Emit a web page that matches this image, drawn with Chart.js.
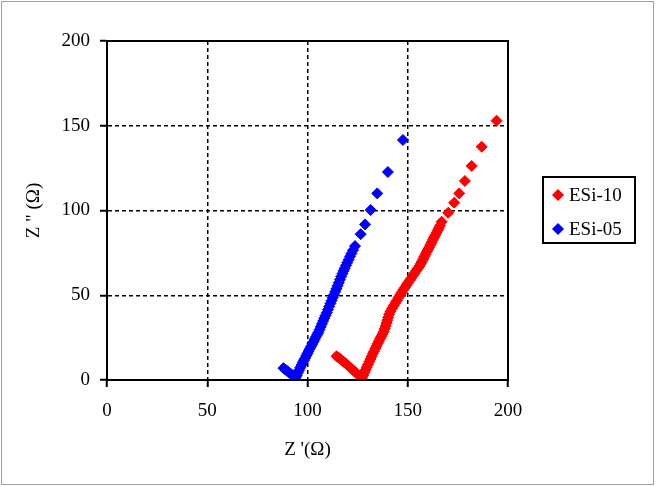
<!DOCTYPE html>
<html>
<head>
<meta charset="utf-8">
<script src="https://cdn.jsdelivr.net/npm/chart.js@4/dist/chart.umd.min.js"></script>
<style>
    html, body { margin: 0; padding: 0; background: #fff; }
    canvas { display: block; }
</style>
</head>
<body>
<canvas id="nyquistChart" width="656" height="486"></canvas>
<script>
const seriesLabels = ['ESi-10', 'ESi-05'];
const seriesColors = ['#ff0000', '#0000ff'];

// ESi-10 (red)
const esi10X = [
    114.5, 115.5, 116.5, 117.5, 118.5, 119.5, 120.5, 121.5, 122.5, 123.5, 124.5, 125.5, 126.5, 127.2,
    127.8, 128.4, 129.0, 129.6, 130.2, 130.8, 131.4, 132.0, 132.6, 133.2,
    133.8, 134.4, 135.0, 135.6, 136.2, 136.8, 137.4, 138.0, 138.5, 139.0,
    139.4, 139.8, 140.2, 140.7, 141.4, 142.2, 143.0, 143.8, 144.6, 145.4,
    146.2, 147.0, 147.8, 148.6, 149.4, 150.2, 151.0, 151.8, 152.6, 153.4,
    154.2, 155.0, 155.8, 156.5, 157.1, 157.7, 158.3, 158.9, 159.5, 160.1,
    160.7, 161.3, 161.9, 162.5, 163.1, 163.7, 164.3, 164.9, 165.5, 166.1, 166.9,
    170.2, 173.2, 175.7, 178.5, 181.9, 186.9, 194.3
];
const esi10Y = [
    14.0, 13.2, 12.3, 11.3, 10.3, 9.3, 8.2, 7.2, 6.1, 5.0, 3.9, 2.8, 1.8, 1.2,
    2.8, 4.4, 6.0, 7.6, 9.2, 10.8, 12.4, 14.0, 15.6, 17.0,
    18.5, 20.0, 21.5, 22.9, 24.3, 25.7, 27.1, 28.6, 30.2, 31.9,
    33.6, 35.3, 37.0, 38.8, 40.5, 42.2, 43.9, 45.5, 47.0, 48.6,
    50.2, 51.7, 53.2, 54.6, 56.0, 57.4, 58.8, 60.2, 61.6, 63.0,
    64.4, 65.8, 67.2, 68.6, 70.0, 71.4, 72.8, 74.2, 75.6, 77.0,
    78.4, 79.8, 81.2, 82.6, 84.0, 85.4, 86.8, 88.2, 89.6, 91.0, 93.4,
    98.7, 104.6, 110.1, 117.4, 126.3, 137.6, 153.0
];

// ESi-05 (blue)
const esi05X = [
    88.0, 89.0, 90.0, 91.0, 92.0, 93.0, 94.0,
    94.6, 95.2, 95.8, 96.4, 97.0, 97.6, 98.2, 98.8, 99.4, 100.0,
    100.6, 101.2, 101.8, 102.4, 103.0, 103.6, 104.2, 104.8, 105.4, 106.0,
    106.6, 107.2, 107.8, 108.4, 109.0, 109.6, 110.2, 110.8, 111.4, 112.0,
    112.6, 113.2, 113.8, 114.4, 115.0, 115.6, 116.2, 116.8, 117.4, 118.0,
    118.6, 119.2, 119.8, 120.5, 121.2, 121.9, 122.7, 123.7,
    126.5, 128.7, 131.5, 134.8, 140.1, 147.6
];
const esi05Y = [
    7.0, 6.1, 5.2, 4.3, 3.3, 2.3, 1.3,
    2.6, 4.2, 5.8, 7.3, 8.8, 10.3, 11.6, 12.9, 14.3, 15.7,
    17.1, 18.5, 19.9, 21.3, 22.6, 24.0, 25.4, 26.7, 28.0, 29.7,
    31.4, 33.1, 34.8, 36.5, 38.1, 39.7, 41.5, 43.3, 45.1, 46.8,
    48.5, 50.2, 52.0, 53.8, 55.6, 57.4, 59.2, 61.0, 62.7, 64.4,
    66.0, 67.6, 69.2, 71.0, 72.8, 74.6, 76.6, 79.0,
    86.0, 91.8, 100.3, 110.1, 122.7, 141.6
];

const xTicks = [0, 50, 100, 150, 200];
const yTicks = [0, 50, 100, 150, 200];
const xTitle = "Z '(\u03A9)";
const yTitle = 'Z " (\u03A9)';

const serif = "'Liberation Serif', 'Times New Roman', serif";
const tickFont = { family: serif, size: 19 };
const titleFont = { family: serif, size: 19 };

function toPoints(xs, ys) {
    return xs.map((x, i) => ({ x: x, y: ys[i] }));
}

// plot frame, outer border and the boxed legend on the right
const framePlugin = {
    id: 'frame',
    beforeDraw(chart) {
        const ctx = chart.ctx;
        ctx.save();
        ctx.fillStyle = '#fff';
        ctx.fillRect(0, 0, chart.width, chart.height);
        ctx.restore();
    },
    afterDraw(chart) {
        const { ctx, chartArea: a } = chart;
        ctx.save();
        ctx.strokeStyle = '#000';
        ctx.lineWidth = 2;
        ctx.strokeRect(a.left, a.top, a.right - a.left, a.bottom - a.top);

        ctx.strokeStyle = '#a0a0a0';
        ctx.lineWidth = 1;
        ctx.strokeRect(1.5, 1.5, 652, 483);

        // legend
        ctx.strokeStyle = '#000';
        ctx.lineWidth = 2;
        ctx.strokeRect(543, 177, 92, 66);
        ctx.font = '19px ' + serif;
        ctx.textBaseline = 'middle';
        ctx.textAlign = 'left';
        chart.data.datasets.forEach((ds, i) => {
            const cy = 195 + i * 34;
            const cx = 558;
            ctx.fillStyle = ds.backgroundColor;
            ctx.beginPath();
            ctx.moveTo(cx, cy - 6);
            ctx.lineTo(cx + 6, cy);
            ctx.lineTo(cx, cy + 6);
            ctx.lineTo(cx - 6, cy);
            ctx.closePath();
            ctx.fill();
            ctx.fillStyle = '#000';
            ctx.fillText(ds.label, 569, cy + 1);
        });
        ctx.restore();
    }
};

new Chart(document.getElementById('nyquistChart'), {
    type: 'scatter',
    data: {
        datasets: [
            {
                label: seriesLabels[0],
                data: toPoints(esi10X, esi10Y),
                backgroundColor: seriesColors[0],
                borderColor: seriesColors[0],
                borderWidth: 1,
                pointStyle: 'rectRot',
                pointRadius: 5.5,
            },
            {
                label: seriesLabels[1],
                data: toPoints(esi05X, esi05Y),
                backgroundColor: seriesColors[1],
                borderColor: seriesColors[1],
                borderWidth: 1,
                pointStyle: 'rectRot',
                pointRadius: 5.5,
            }
        ]
    },
    options: {
        responsive: false,
        animation: false,
        events: [],
        layout: { padding: { left: 0, top: 41, right: 148, bottom: 0 } },
        plugins: {
            legend: { display: false },
            tooltip: { enabled: false }
        },
        scales: {
            x: {
                type: 'linear',
                min: 0,
                max: 200,
                afterBuildTicks: s => { s.ticks = xTicks.map(v => ({ value: v })); },
                afterFit: s => { s.height = 106; },
                grid: { color: '#000', lineWidth: 1.5, tickLength: 7, tickColor: '#000', tickWidth: 2 },
                border: { display: true, color: '#000', width: 2, dash: [4, 3] },
                ticks: { color: '#000', font: tickFont, padding: 13, maxRotation: 0 },
                title: { display: true, text: xTitle, color: '#000', font: titleFont, padding: { top: 0, bottom: 25 } }
            },
            y: {
                type: 'linear',
                min: 0,
                max: 200,
                afterBuildTicks: s => { s.ticks = yTicks.map(v => ({ value: v })); },
                afterFit: s => { s.width = 107; },
                grid: { color: '#000', lineWidth: 1.5, tickLength: 7, tickColor: '#000', tickWidth: 2 },
                border: { display: true, color: '#000', width: 2, dash: [4, 3] },
                ticks: { color: '#000', font: tickFont, padding: 10 },
                title: { display: true, text: yTitle, color: '#000', font: titleFont, padding: { top: 23, bottom: 0 } }
            }
        }
    },
    plugins: [framePlugin]
});
</script>
</body>
</html>
